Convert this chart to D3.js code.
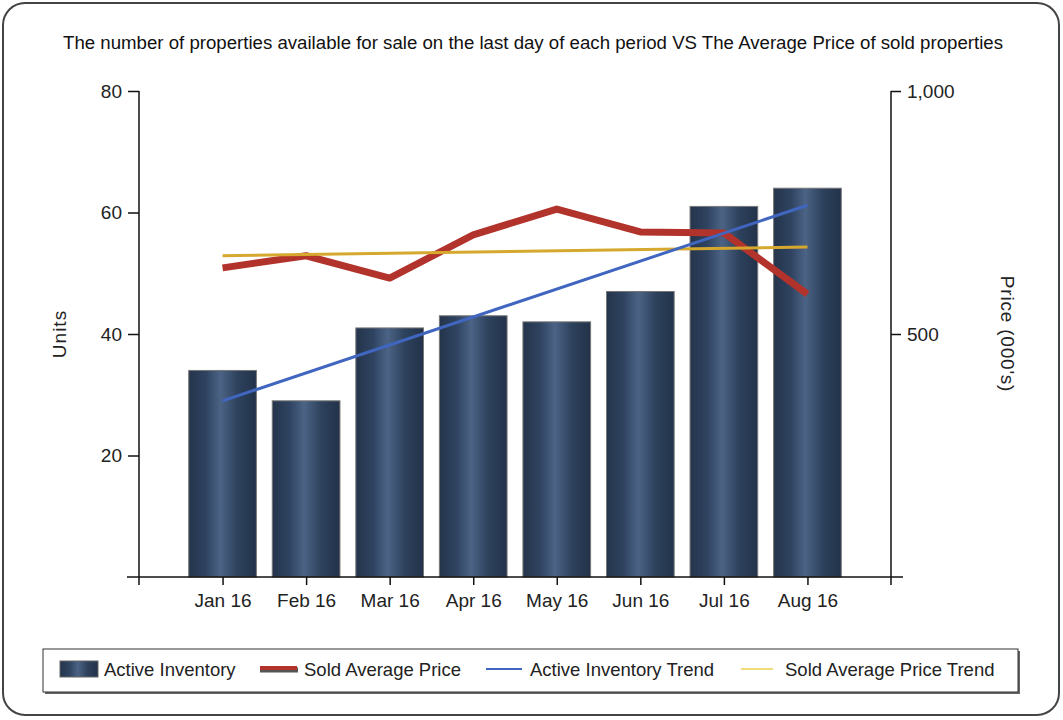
<!DOCTYPE html>
<html>
<head>
<meta charset="utf-8">
<script src="https://cdn.jsdelivr.net/npm/d3@7"></script>
<style>
  body { margin: 0; background: #fff; }
  svg { display: block; font-family: "Liberation Sans", Arial, sans-serif; }
</style>
</head>
<body>
<div id="chart"></div>
<script>
const months = ['Jan 16', 'Feb 16', 'Mar 16', 'Apr 16', 'May 16', 'Jun 16', 'Jul 16', 'Aug 16'];
const activeInventory = [34, 29, 41, 43, 42, 47, 61, 64];
const soldAvgPrice = [636, 661, 615, 704, 757, 710, 708, 582];
// trend lines, read at first and last month
const trendMonths = ['Jan 16', 'Aug 16'];
const activeInventoryTrend = [29.0, 61.2];
const soldAvgPriceTrend = [661, 679];
const unitTicks = [20, 40, 60, 80];
const priceTicks = [500, 1000];

const width = 1063, height = 720;
const plotLeft = 139, plotRight = 891, plotTop = 91, plotBottom = 577;

const svg = d3.select('#chart').append('svg')
	.attr('width', width)
	.attr('height', height);

const defs = svg.append('defs');
const grad = defs.append('linearGradient').attr('id', 'barGrad')
	.attr('x1', '0%').attr('x2', '100%').attr('y1', '0%').attr('y2', '0%');
grad.append('stop').attr('offset', '0%').attr('stop-color', '#24344b');
grad.append('stop').attr('offset', '25%').attr('stop-color', '#2f4360');
grad.append('stop').attr('offset', '47%').attr('stop-color', '#4b6385');
grad.append('stop').attr('offset', '72%').attr('stop-color', '#2e425d');
grad.append('stop').attr('offset', '100%').attr('stop-color', '#22324a');

// outer frame
svg.append('rect')
	.attr('x', 3).attr('y', 3)
	.attr('width', width - 7).attr('height', height - 8)
	.attr('rx', 22).attr('ry', 22)
	.attr('fill', '#fff')
	.attr('stroke', '#444')
	.attr('stroke-width', 2);

svg.append('text')
	.attr('x', 533).attr('y', 49)
	.attr('text-anchor', 'middle')
	.attr('textLength', 940)
	.attr('lengthAdjust', 'spacingAndGlyphs')
	.style('font-size', '17.5px')
	.style('fill', '#111')
	.text('The number of properties available for sale on the last day of each period VS The Average Price of sold properties');

const x = d3.scalePoint().domain(months).range([plotLeft, plotRight]).padding(1);
const yUnits = d3.scaleLinear().domain([0, 80]).range([plotBottom, plotTop]);
const yPrice = d3.scaleLinear().domain([0, 1000]).range([plotBottom, plotTop]);
const barW = x.step() * 0.81;

// bars
svg.append('g').selectAll('rect')
	.data(activeInventory)
	.enter()
	.append('rect')
	.attr('x', (d, i) => x(months[i]) - barW / 2)
	.attr('y', d => yUnits(d))
	.attr('width', barW)
	.attr('height', d => yUnits(0) - yUnits(d))
	.attr('fill', 'url(#barGrad)')
	.attr('stroke', '#777')
	.attr('stroke-width', 1);

// lines
const priceLine = d3.line()
	.x((d, i) => x(months[i]))
	.y(d => yPrice(d));
svg.append('path')
	.datum(soldAvgPrice)
	.attr('d', priceLine)
	.attr('fill', 'none')
	.attr('stroke', '#b2322c')
	.attr('stroke-width', 7)
	.attr('stroke-linejoin', 'round');

svg.append('path')
	.datum(soldAvgPriceTrend)
	.attr('d', d3.line().x((d, i) => x(trendMonths[i])).y(d => yPrice(d)))
	.attr('fill', 'none')
	.attr('stroke', '#d6a82e')
	.attr('stroke-width', 3);

svg.append('path')
	.datum(activeInventoryTrend)
	.attr('d', d3.line().x((d, i) => x(trendMonths[i])).y(d => yUnits(d)))
	.attr('fill', 'none')
	.attr('stroke', '#4166c0')
	.attr('stroke-width', 3);

// axes
const axisStyle = g => {
	g.select('.domain').remove();
	g.selectAll('line').attr('stroke', '#111').attr('stroke-width', 1.5);
	g.selectAll('text').style('font-size', '19px').style('fill', '#222')
		.style('font-family', '"Liberation Sans", Arial, sans-serif');
};

svg.append('g')
	.attr('transform', 'translate(' + plotLeft + ',0)')
	.call(d3.axisLeft(yUnits).tickValues(unitTicks).tickSize(11).tickPadding(6))
	.call(axisStyle);

svg.append('g')
	.attr('transform', 'translate(' + plotRight + ',0)')
	.call(d3.axisRight(yPrice).tickValues(priceTicks).tickSize(10).tickPadding(6)
		.tickFormat(d3.format(',')))
	.call(axisStyle);

svg.append('g')
	.attr('transform', 'translate(0,' + plotBottom + ')')
	.call(d3.axisBottom(x).tickSize(8).tickPadding(9))
	.call(axisStyle);

// axis lines
const axisLines = svg.append('g').attr('stroke', '#111').attr('stroke-width', 1.5);
axisLines.append('line').attr('x1', plotLeft).attr('x2', plotLeft).attr('y1', plotTop).attr('y2', plotBottom + 8);
axisLines.append('line').attr('x1', plotRight).attr('x2', plotRight).attr('y1', plotTop).attr('y2', plotBottom + 8);
axisLines.append('line').attr('x1', plotLeft - 12).attr('x2', plotRight + 12).attr('y1', plotBottom).attr('y2', plotBottom);

svg.append('text')
	.attr('transform', 'translate(66,334) rotate(-90)')
	.attr('text-anchor', 'middle')
	.style('font-size', '19px')
	.style('letter-spacing', '1px')
	.style('fill', '#222')
	.text('Units');

svg.append('text')
	.attr('transform', 'translate(1001,334) rotate(90)')
	.attr('text-anchor', 'middle')
	.style('font-size', '19px')
	.style('letter-spacing', '0.8px')
	.style('fill', '#222')
	.text("Price (000's)");

// legend
const legend = svg.append('g');
legend.append('rect')
	.attr('x', 45).attr('y', 651).attr('width', 975).attr('height', 43)
	.attr('fill', '#666');
legend.append('rect')
	.attr('x', 43).attr('y', 649).attr('width', 975).attr('height', 43)
	.attr('fill', '#fff').attr('stroke', '#333').attr('stroke-width', 1);

const legendItems = [
	{ name: 'Active Inventory', type: 'bar', sx: 60, tx: 104 },
	{ name: 'Sold Average Price', type: 'price', sx: 260, tx: 304 },
	{ name: 'Active Inventory Trend', type: 'trend', sx: 486, tx: 530 },
	{ name: 'Sold Average Price Trend', type: 'ptrend', sx: 741, tx: 785 }
];
legendItems.forEach(it => {
	if (it.type === 'bar') {
		legend.append('rect').attr('x', it.sx).attr('y', 661).attr('width', 38).attr('height', 16)
			.attr('fill', 'url(#barGrad)').attr('stroke', '#666');
	} else if (it.type === 'price') {
		legend.append('line').attr('x1', it.sx).attr('x2', it.sx + 38).attr('y1', 670).attr('y2', 670)
			.attr('stroke', '#555').attr('stroke-width', 5);
		legend.append('line').attr('x1', it.sx).attr('x2', it.sx + 37).attr('y1', 668).attr('y2', 668)
			.attr('stroke', '#b2322c').attr('stroke-width', 4);
	} else if (it.type === 'trend') {
		legend.append('line').attr('x1', it.sx).attr('x2', it.sx + 36).attr('y1', 669).attr('y2', 669)
			.attr('stroke', '#4166c0').attr('stroke-width', 2);
	} else {
		legend.append('line').attr('x1', it.sx).attr('x2', it.sx + 32).attr('y1', 669).attr('y2', 669)
			.attr('stroke', '#eedd7a').attr('stroke-width', 2);
	}
	legend.append('text')
		.attr('x', it.tx).attr('y', 676)
		.style('font-size', '18.5px')
		.style('fill', '#222')
		.text(it.name);
});
</script>
</body>
</html>
